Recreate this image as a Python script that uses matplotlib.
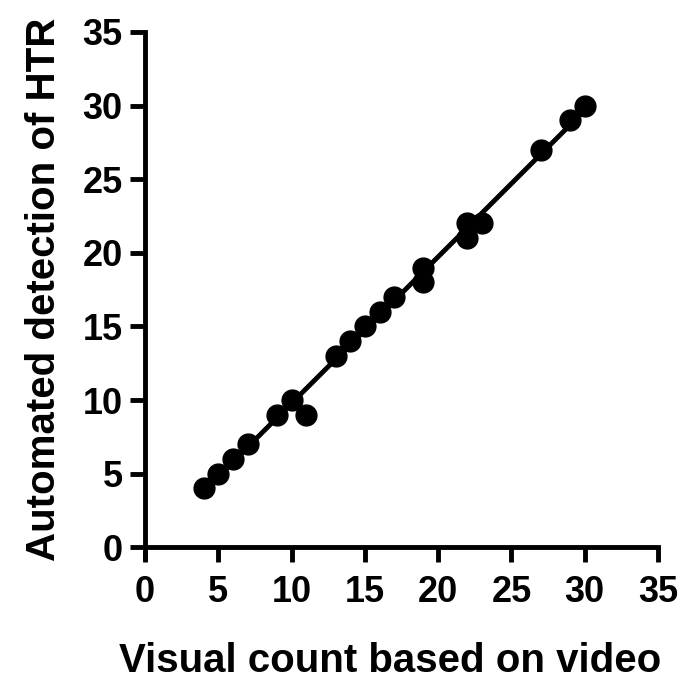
import numpy as np
import matplotlib.pyplot as plt

# visual count vs automated detection
visual = [4, 5, 6, 7, 9, 10, 11, 13, 14, 15, 16, 17, 19, 19, 22, 22, 23, 27, 29, 30]
automated = [4, 5, 6, 7, 9, 10, 9, 13, 14, 15, 16, 17, 18, 19, 21, 22, 22, 27, 29, 30]
ticks = [0, 5, 10, 15, 20, 25, 30, 35]

plt.rcParams['font.family'] = ['Liberation Sans', 'DejaVu Sans']
plt.rcParams['font.weight'] = 'bold'

fig = plt.figure(figsize=(6.84, 6.79), dpi=100)
ax = fig.add_axes([0.212, 0.194, 0.75, 0.759])

# linear regression line over the data range
slope, icpt = np.polyfit(visual, automated, 1)
xs = np.array([min(visual), max(visual)])
ax.plot(xs, slope * xs + icpt, color='black', lw=3.5, zorder=2)
ax.plot(visual, automated, 'o', color='black', ms=15, zorder=3)

ax.set_xlim(0, 35)
ax.set_ylim(0, 35)
ax.set_xticks(ticks)
ax.set_yticks(ticks)
ax.tick_params(labelsize=26, width=3.5, length=11, pad=5)
ax.tick_params(axis='x', pad=9)
for lab in ax.get_xticklabels() + ax.get_yticklabels():
    lab.set_fontweight('bold')

for s in ['top', 'right']:
    ax.spines[s].set_visible(False)
for s in ['left', 'bottom']:
    ax.spines[s].set_linewidth(3.5)
ax.spines['left'].set_bounds(-0.7, 35)

ax.set_xlabel('Visual count based on video', fontsize=29, fontweight='bold')
ax.xaxis.set_label_coords(0.478, -0.183)
ax.set_ylabel('Automated detection of HTR', fontsize=29, fontweight='bold', labelpad=14)

plt.savefig('out.png', dpi=100)
